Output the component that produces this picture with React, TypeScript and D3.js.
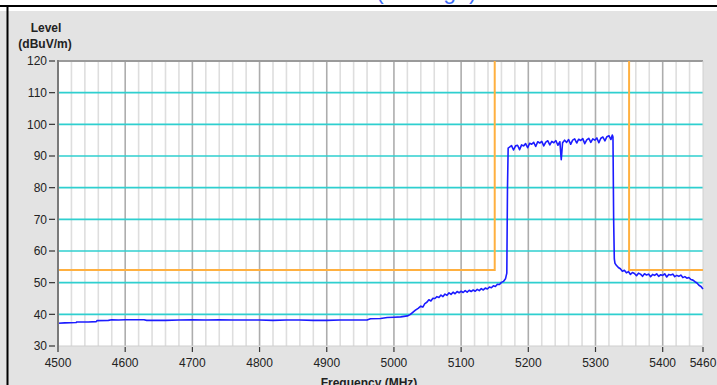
import React from "react";
import * as d3 from "d3";

const xTicks = [4500, 4600, 4700, 4800, 4900, 5000, 5100, 5200, 5300, 5400, 5460];
const yTicks = [30, 40, 50, 60, 70, 80, 90, 100, 110, 120];
const cyanLevels = [40, 50, 60, 70, 80, 90, 100, 110];

// Limit line (dBuV/m): [freq, level]
const limitLeft: [number, number][] = [[4500, 54], [5150, 54], [5150, 120]];
const limitRight: [number, number][] = [[5350, 120], [5350, 54], [5460, 54]];

// Measured trace segments [freq MHz, level dBuV/m]
const flatSegment: [number, number][] = [
  [4500, 37.2], [4510, 37.3], [4527, 37.4], [4528, 37.6], [4545, 37.6], [4557, 37.7],
  [4558, 38.0], [4575, 38.1], [4580, 38.3], [4590, 38.2], [4600, 38.3], [4610, 38.3],
  [4628, 38.3], [4632, 38.1], [4660, 38.1], [4680, 38.2], [4700, 38.3], [4720, 38.2],
  [4740, 38.3], [4760, 38.2], [4780, 38.2], [4800, 38.2], [4820, 38.1], [4840, 38.2],
  [4860, 38.2], [4880, 38.1], [4900, 38.1], [4920, 38.2], [4940, 38.2], [4960, 38.2],
  [4965, 38.6], [4980, 38.7], [4990, 39.0], [5000, 39.1], [5010, 39.2], [5020, 39.5],
];
const riseSegment: [number, number][] = [
  [5024, 39.9], [5028, 40.6], [5032, 41.3], [5036, 41.9], [5040, 42.6], [5043, 42.3],
  [5046, 43.4], [5049, 43.8], [5052, 44.6], [5055, 44.2], [5058, 45.1], [5061, 45.0],
  [5064, 45.6], [5067, 45.3], [5070, 46.1], [5073, 45.6], [5076, 46.4], [5079, 46.0],
  [5082, 46.8], [5085, 46.3], [5088, 47.0], [5091, 46.5], [5094, 47.2], [5097, 46.8],
  [5100, 47.3], [5103, 46.9], [5106, 47.5], [5109, 47.0], [5112, 47.6], [5115, 47.2],
  [5118, 47.7], [5121, 47.3], [5124, 47.9], [5127, 47.5], [5130, 48.1], [5133, 47.7],
  [5136, 48.3], [5139, 48.0], [5142, 48.6], [5145, 48.4], [5148, 49.0], [5151, 48.8],
  [5154, 49.5], [5157, 49.4], [5160, 50.1], [5163, 50.4], [5166, 51.2], [5168, 53.0],
  [5169, 80.0], [5170, 92.5],
];
const bandSegment: [number, number][] = [
  [5172, 92.8], [5175, 93.3], [5178, 91.9], [5181, 93.2], [5184, 93.4], [5187, 92.0],
  [5190, 93.5], [5193, 93.2], [5196, 93.9], [5199, 92.6], [5202, 94.0], [5205, 93.7],
  [5208, 94.3], [5211, 93.0], [5214, 94.5], [5217, 94.1], [5220, 94.6], [5223, 93.2],
  [5226, 94.4], [5229, 94.8], [5232, 93.5], [5235, 94.6], [5238, 94.2], [5241, 94.9],
  [5244, 93.4], [5247, 94.5], [5249, 88.8], [5251, 94.2], [5254, 95.0], [5257, 94.3],
  [5260, 95.2], [5263, 93.7], [5266, 95.0], [5269, 95.4], [5272, 94.1], [5275, 95.3],
  [5278, 94.9], [5281, 95.5], [5284, 93.9], [5287, 95.1], [5290, 95.6], [5293, 94.3],
  [5296, 95.4], [5299, 95.0], [5302, 95.7], [5305, 94.2], [5308, 95.6], [5311, 96.0],
  [5314, 94.8], [5317, 96.1], [5320, 96.4], [5323, 95.2], [5325, 96.6], [5326, 96.0],
  [5327, 70.0], [5328, 57.5], [5329, 56.1],
];
const tailSegment: [number, number][] = [
  [5331, 55.5], [5334, 54.8], [5337, 54.4], [5340, 53.6], [5343, 53.9], [5346, 53.1],
  [5349, 53.5], [5352, 52.6], [5355, 53.2], [5358, 52.9], [5361, 52.2], [5364, 53.0],
  [5367, 52.7], [5370, 52.0], [5373, 52.8], [5376, 52.4], [5379, 52.7], [5382, 51.9],
  [5385, 52.6], [5388, 52.3], [5391, 52.8], [5394, 52.0], [5397, 52.5], [5400, 52.3],
  [5403, 52.8], [5406, 51.8], [5409, 52.6], [5412, 52.4], [5415, 52.7], [5418, 51.9],
  [5421, 52.3], [5424, 52.0], [5427, 52.4], [5430, 51.6], [5433, 51.9], [5436, 51.4],
  [5439, 51.6], [5442, 51.0], [5445, 50.8], [5448, 50.3], [5451, 49.9], [5454, 49.2],
  [5457, 48.8], [5460, 48.0],
];

const W = 717, H = 385;
const L = 58, R = 703, T = 61, B = 346;

export default function App() {
  const x = d3.scaleLinear().domain([4500, 5460]).range([L, R]);
  const y = d3.scaleLinear().domain([30, 120]).range([B, T]);
  const line = d3.line<[number, number]>().x(d => x(d[0])).y(d => y(d[1]));
  const trace = [...flatSegment, ...riseSegment, ...bandSegment, ...tailSegment];
  const minor = d3.range(4520, 5460, 20).filter(f => f % 100 !== 0);
  const major = d3.range(4600, 5460, 100);
  const font = "Arial, 'Liberation Sans', sans-serif";
  return (
    <svg width={W} height={H} style={{ position: "absolute", left: 0, top: 0, display: "block" }} fontFamily={font}>
      <rect x={0} y={0} width={W} height={H} fill="#ffffff" />
      <rect x={0} y={11} width={W} height={H - 11} fill="#e3e3e3" />
      <text x={376} y={-1.5} fontSize={23} fill="#3d6cf5">(Average)</text>
      <line x1={0} x2={W} y1={6} y2={6} stroke="#000" strokeWidth={2} />
      <line x1={7.5} x2={7.5} y1={5} y2={H} stroke="#000" strokeWidth={2} />

      <rect x={L} y={T} width={R - L} height={B - T} fill="#ffffff" />
      {minor.map(f => (
        <line key={"mi" + f} x1={x(f)} x2={x(f)} y1={T} y2={B} stroke="#dedede" strokeWidth={1.6} />
      ))}
      {major.map(f => (
        <line key={"ma" + f} x1={x(f)} x2={x(f)} y1={T} y2={B} stroke="#adadad" strokeWidth={1.6} />
      ))}
      {cyanLevels.map(v => (
        <line key={"cy" + v} x1={L} x2={R} y1={y(v)} y2={y(v)} stroke="#2fcfcf" strokeWidth={1.6} />
      ))}
      <line x1={L} x2={R} y1={T} y2={T} stroke="#9a9a9a" strokeWidth={2} />
      <line x1={L} x2={R} y1={B} y2={B} stroke="#cfcfcf" strokeWidth={1} />
      <line x1={R} x2={R} y1={T} y2={B} stroke="#d0d0d0" strokeWidth={1} />

      <path d={line(limitLeft) || ""} fill="none" stroke="#ffb040" strokeWidth={2} />
      <path d={line(limitRight) || ""} fill="none" stroke="#ffb040" strokeWidth={2} />
      <path d={line(trace) || ""} fill="none" stroke="#1c1cff" strokeWidth={1.6} strokeLinejoin="round" />

      <line x1={L} x2={L} y1={T - 1} y2={B + 1} stroke="#7a7a7a" strokeWidth={2} />

      {yTicks.map(v => (
        <g key={"yt" + v}>
          <line x1={49} x2={55} y1={y(v)} y2={y(v)} stroke="#333" strokeWidth={1.2} />
          <text x={47} y={y(v) + 4.2} fontSize={12} fill="#222" textAnchor="end">{v}</text>
        </g>
      ))}
      {xTicks.map(f => (
        <g key={"xt" + f}>
          <line x1={x(f)} x2={x(f)} y1={B + 1} y2={B + 6} stroke="#333" strokeWidth={1.2} />
          <text x={x(f)} y={367} fontSize={12} fill="#222" textAnchor="middle">{f}</text>
        </g>
      ))}
      <text x={46} y={32} fontSize={12} fontWeight="bold" fill="#222" textAnchor="middle">Level</text>
      <text x={45} y={48} fontSize={12} fontWeight="bold" fill="#222" textAnchor="middle">(dBuV/m)</text>
      <text x={369} y={387} fontSize={12} fontWeight="bold" fill="#222" textAnchor="middle">Frequency (MHz)</text>
    </svg>
  );
}
